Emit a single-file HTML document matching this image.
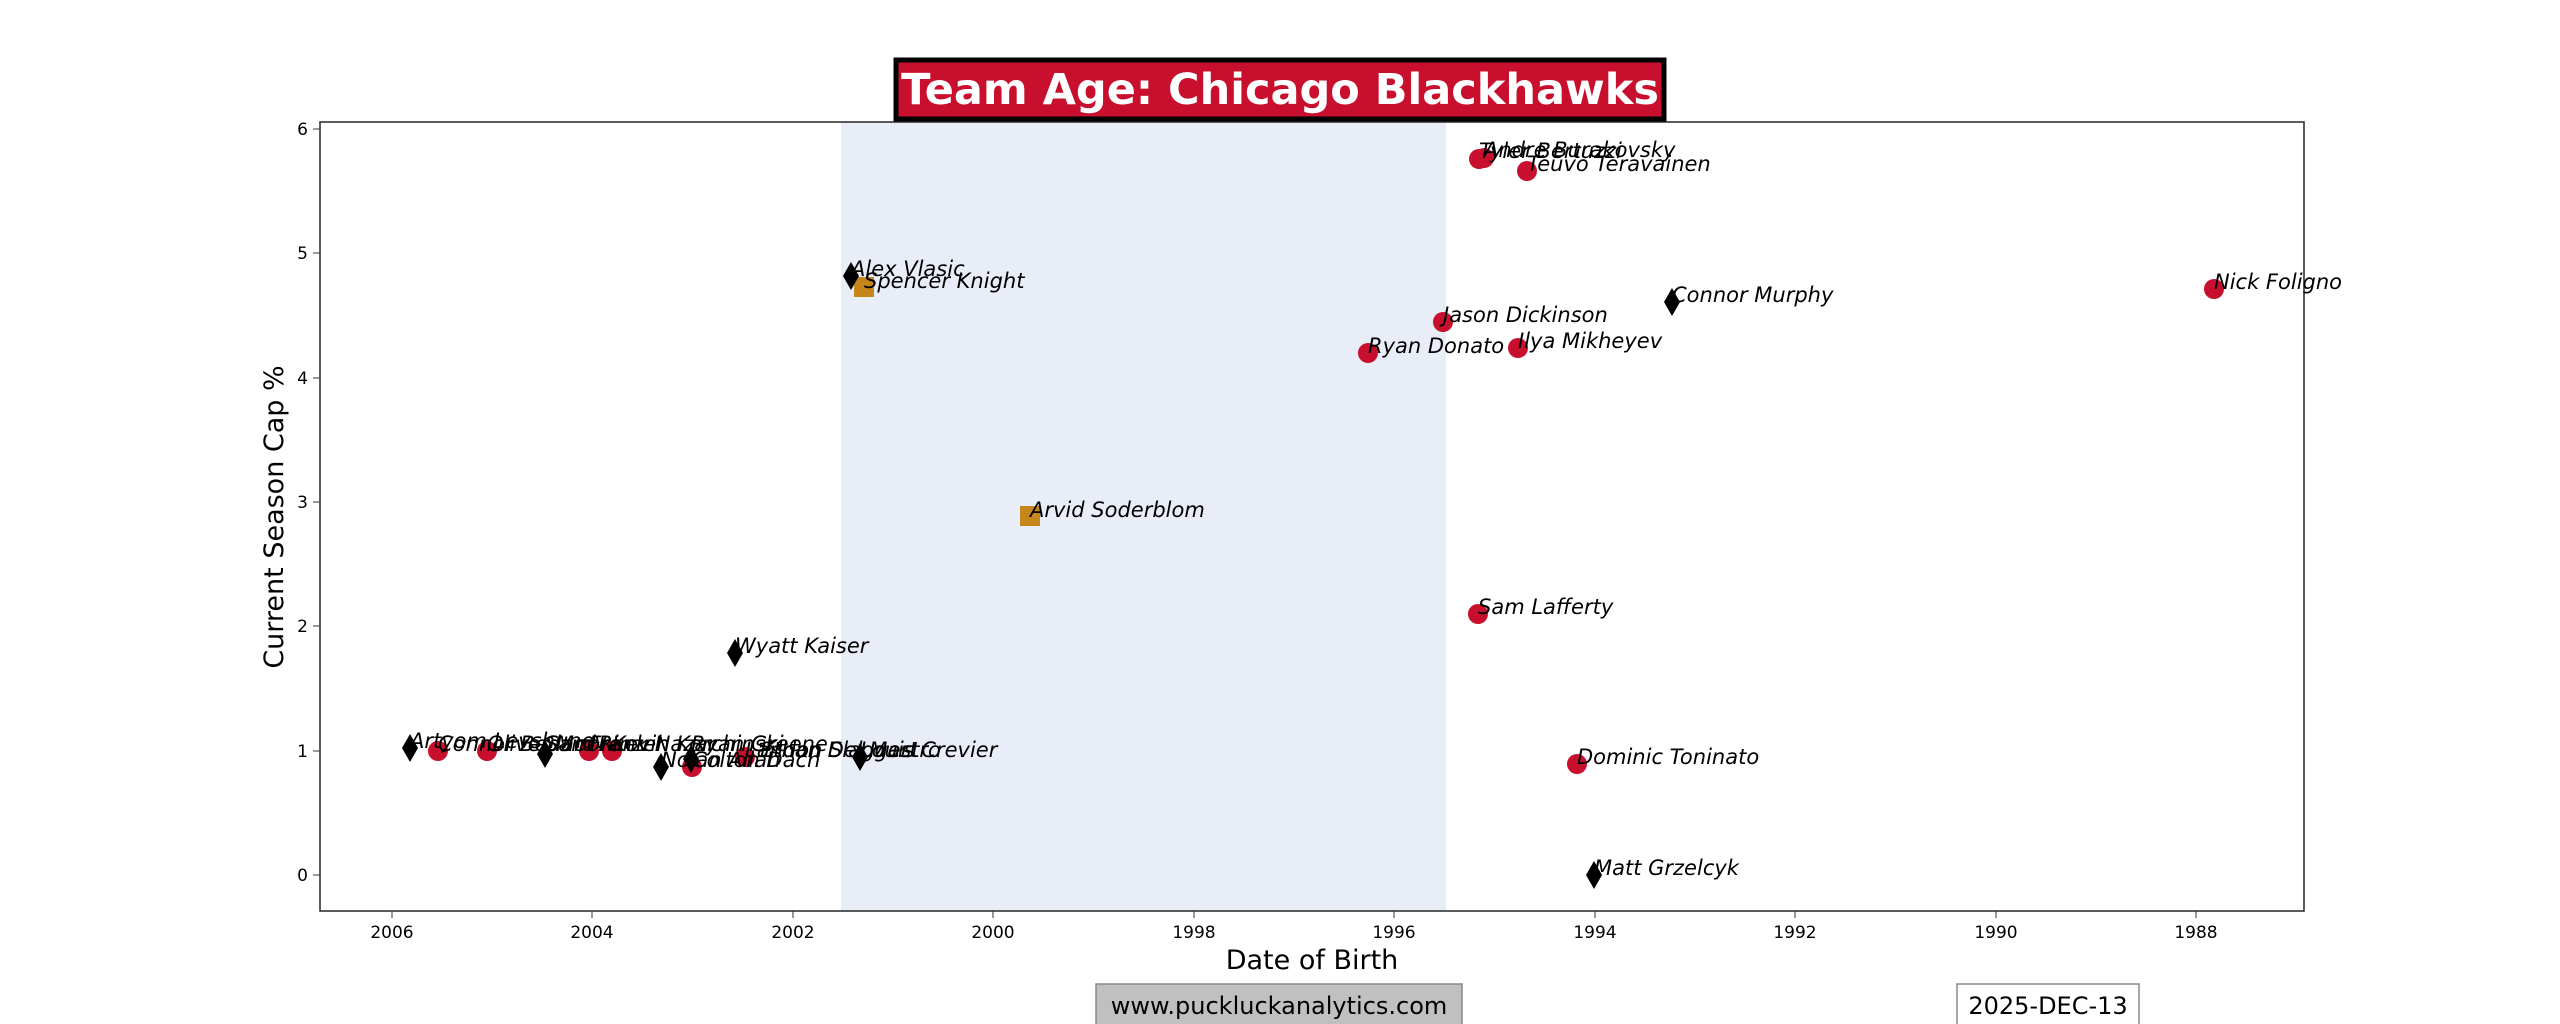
<!DOCTYPE html>
<html><head><meta charset="utf-8"><style>
html,body{margin:0;padding:0;background:#fff;}
svg{display:block;}
text{font-family:"DejaVu Sans","Liberation Sans",sans-serif;}
.l{font-size:21px;font-style:italic;fill:#000;}
.t{font-size:17px;fill:#000;}
</style></head><body>
<svg width="2560" height="1024" viewBox="0 0 2560 1024" xmlns="http://www.w3.org/2000/svg">
<defs>
<path id="d" d="M0,-14 L8,0 L0,14 L-8,0 Z" fill="#000"/>
</defs>
<rect x="0" y="0" width="2560" height="1024" fill="#fff"/>
<rect x="842" y="122" width="603" height="789" fill="#e9edf8"/>
<line x1="842" y1="122" x2="842" y2="911" stroke="#dde3f5" stroke-width="1"/>
<line x1="1445" y1="122" x2="1445" y2="911" stroke="#dde3f5" stroke-width="1"/>
<rect x="320" y="122" width="1984" height="789" fill="none" stroke="#333" stroke-width="1.6"/>
<g class="t" text-anchor="end">
<line x1="313" y1="129" x2="320" y2="129" stroke="#333"/><text x="308" y="135">6</text>
<line x1="313" y1="253" x2="320" y2="253" stroke="#333"/><text x="308" y="259">5</text>
<line x1="313" y1="378" x2="320" y2="378" stroke="#333"/><text x="308" y="384">4</text>
<line x1="313" y1="502" x2="320" y2="502" stroke="#333"/><text x="308" y="508">3</text>
<line x1="313" y1="626" x2="320" y2="626" stroke="#333"/><text x="308" y="632">2</text>
<line x1="313" y1="751" x2="320" y2="751" stroke="#333"/><text x="308" y="757">1</text>
<line x1="313" y1="875" x2="320" y2="875" stroke="#333"/><text x="308" y="881">0</text>
</g>
<g class="t" text-anchor="middle">
<line x1="392" y1="911" x2="392" y2="918" stroke="#333"/><text x="392" y="938">2006</text>
<line x1="592" y1="911" x2="592" y2="918" stroke="#333"/><text x="592" y="938">2004</text>
<line x1="793" y1="911" x2="793" y2="918" stroke="#333"/><text x="793" y="938">2002</text>
<line x1="993" y1="911" x2="993" y2="918" stroke="#333"/><text x="993" y="938">2000</text>
<line x1="1194" y1="911" x2="1194" y2="918" stroke="#333"/><text x="1194" y="938">1998</text>
<line x1="1394" y1="911" x2="1394" y2="918" stroke="#333"/><text x="1394" y="938">1996</text>
<line x1="1595" y1="911" x2="1595" y2="918" stroke="#333"/><text x="1595" y="938">1994</text>
<line x1="1795" y1="911" x2="1795" y2="918" stroke="#333"/><text x="1795" y="938">1992</text>
<line x1="1996" y1="911" x2="1996" y2="918" stroke="#333"/><text x="1996" y="938">1990</text>
<line x1="2196" y1="911" x2="2196" y2="918" stroke="#333"/><text x="2196" y="938">1988</text>
</g>
<text x="1312" y="969" text-anchor="middle" font-size="27">Date of Birth</text>
<text transform="translate(283,517) rotate(-90)" text-anchor="middle" font-size="27">Current Season Cap %</text>
<rect x="896" y="60" width="768" height="59" fill="#c8102e" stroke="#000" stroke-width="5"/>
<text x="1280" y="104" text-anchor="middle" font-size="43" font-weight="bold" fill="#fff">Team Age: Chicago Blackhawks</text>
<g fill="#c8102e">
<circle cx="438" cy="751" r="10"/><circle cx="487" cy="751" r="10"/>
<circle cx="589" cy="751" r="10"/><circle cx="612" cy="751" r="10"/>
<circle cx="692" cy="767" r="10"/><circle cx="745" cy="757" r="10"/>
<circle cx="1368" cy="353" r="10"/><circle cx="1443" cy="322" r="10"/>
<circle cx="1479" cy="159" r="10"/><circle cx="1484" cy="158" r="10"/>
<circle cx="1527" cy="171" r="10"/><circle cx="1518" cy="348" r="10"/>
<circle cx="1478" cy="614" r="10"/><circle cx="1577" cy="764" r="10"/>
<circle cx="2214" cy="289" r="10"/>
</g>
<g fill="#c5861a">
<rect x="854" y="277" width="20" height="20"/>
<rect x="1020" y="506" width="20" height="20"/>
</g>
<use href="#d" x="410" y="748"/><use href="#d" x="545" y="754"/>
<use href="#d" x="661" y="767"/><use href="#d" x="691" y="759"/>
<use href="#d" x="735" y="653"/><use href="#d" x="860" y="757"/>
<use href="#d" x="851" y="276"/><use href="#d" x="1594" y="875"/>
<use href="#d" x="1672" y="302"/>
<g class="l">
<text x="410" y="748">Artyom Levshunov</text>
<text x="438" y="751">Connor Bedard</text>
<text x="487" y="751">Oliver Moore</text>
<text x="545" y="751">Sam Rinzel</text>
<text x="589" y="751">Frank Nazar</text>
<text x="612" y="751">Kevin Korchinski</text>
<text x="661" y="767">Nolan Allan</text>
<text x="691" y="751">Ryan Greene</text>
<text x="692" y="767">Colton Dach</text>
<text x="745" y="757">Landon Slaggert</text>
<text x="760" y="757">Ethan Del Mastro</text>
<text x="860" y="757">Louis Crevier</text>
<text x="735" y="653">Wyatt Kaiser</text>
<text x="851" y="276">Alex Vlasic</text>
<text x="864" y="288">Spencer Knight</text>
<text x="1030" y="517">Arvid Soderblom</text>
<text x="1368" y="353">Ryan Donato</text>
<text x="1443" y="322">Jason Dickinson</text>
<text x="1479" y="158">Tyler Bertuzzi</text>
<text x="1484" y="157">Andre Burakovsky</text>
<text x="1527" y="171">Teuvo Teravainen</text>
<text x="1518" y="348">Ilya Mikheyev</text>
<text x="1478" y="614">Sam Lafferty</text>
<text x="1577" y="764">Dominic Toninato</text>
<text x="1594" y="875">Matt Grzelcyk</text>
<text x="1672" y="302">Connor Murphy</text>
<text x="2214" y="289">Nick Foligno</text>
</g>
<rect x="1096" y="984" width="366" height="44" fill="#c0c0c0" stroke="#888" stroke-width="1.5"/>
<text x="1279" y="1014" text-anchor="middle" font-size="24">www.puckluckanalytics.com</text>
<rect x="1957" y="984" width="182" height="44" fill="#fff" stroke="#888" stroke-width="1.5"/>
<text x="2048" y="1014" text-anchor="middle" font-size="24">2025-DEC-13</text>
</svg>
</body></html>
